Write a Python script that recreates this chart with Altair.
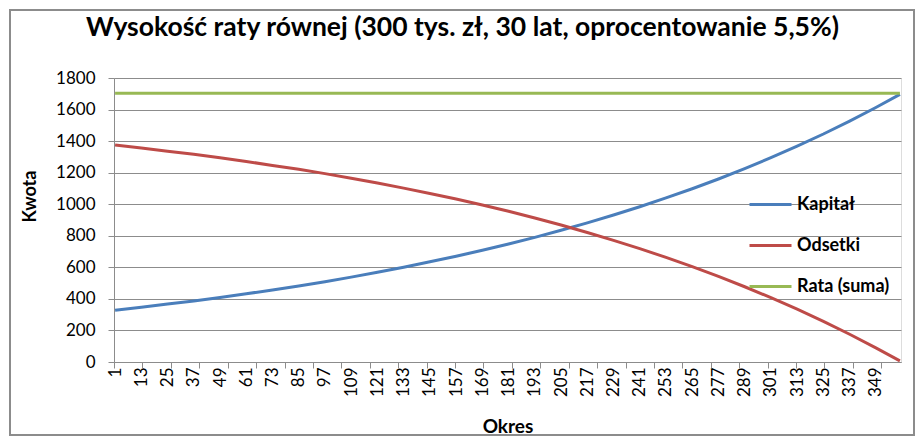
import altair as alt
import pandas as pd

# values at every 12th period (plus the last one)
okres = [1, 13, 25, 37, 49, 61, 73, 85, 97, 109, 121, 133, 145, 157, 169, 181,
         193, 205, 217, 229, 241, 253, 265, 277, 289, 301, 313, 325, 337, 349, 360]
kapital = [328, 347, 367, 387, 409, 432, 457, 482, 509, 538, 569, 601, 635, 670, 708, 748,
           790, 835, 882, 932, 984, 1040, 1098, 1160, 1226, 1295, 1368, 1445, 1527, 1613, 1696]
odsetki = [1375, 1356, 1336, 1316, 1294, 1271, 1246, 1221, 1194, 1165, 1134, 1102, 1068, 1033, 995, 955,
           913, 868, 821, 771, 719, 663, 605, 543, 477, 408, 335, 258, 176, 90, 7]
rata = [1703] * len(okres)

series = ["Kapitał", "Odsetki", "Rata (suma)"]
colors = ["#4A7EBB", "#BE4B48", "#98B954"]

label_values = list(range(1, 350, 12))
tick_values = [0.5 + 13 * k for k in range(28)]

df = pd.DataFrame({"Okres": okres, "Kapitał": kapital, "Odsetki": odsetki, "Rata (suma)": rata})
long = df.melt("Okres", var_name="Seria", value_name="Kwota")

FONT = "Lato"
GRID = "#8C8C8C"
x_scale = alt.Scale(domain=[0.5, 360.5], nice=False, zero=False)
y_scale = alt.Scale(domain=[0, 1800], nice=False)
y_axis = alt.Axis(values=list(range(0, 1801, 200)), title="Kwota", format="d",
                  labelFontSize=17, labelFont=FONT, labelColor="#000000",
                  labelPadding=13, tickSize=6, tickColor=GRID,
                  gridColor=GRID, domainColor=GRID,
                  titleFont=FONT, titleFontSize=18, titleFontWeight="bold",
                  titleX=-84, titleY=118, titleAngle=-90, titleAlign="center",
                  titleBaseline="middle")

lines = alt.Chart(long).mark_line(strokeWidth=3).encode(
    x=alt.X("Okres:Q", scale=x_scale,
            axis=alt.Axis(values=label_values, title="Okres", ticks=False, orient="bottom",
                          labelAngle=-90, labelAlign="right", labelBaseline="middle",
                          labelPadding=5, labelFontSize=17, labelFont=FONT,
                          labelColor="#000000", grid=False, domainColor=GRID,
                          titleFont=FONT, titleFontSize=19, titleFontWeight="bold",
                          titleY=64, titleBaseline="middle", labelOverlap=False)),
    y=alt.Y("Kwota:Q", scale=y_scale, axis=y_axis),
    color=alt.Color("Seria:N", scale=alt.Scale(domain=series, range=colors),
                    legend=alt.Legend(title=None, orient="none", legendX=634, legendY=104,
                                      symbolType="stroke", symbolSize=1764,
                                      symbolStrokeWidth=3, labelFont=FONT,
                                      labelFontSize=18, labelFontWeight="bold",
                                      labelColor="#000000", rowPadding=9,
                                      labelOffset=4)),
)

# tick marks of the category axis sit every 13 periods, unlike the labels
ticks = alt.Chart(long).mark_line(opacity=0).encode(
    x=alt.X("Okres:Q", scale=x_scale,
            axis=alt.Axis(values=tick_values, labels=False, title=None, domain=False,
                          orient="bottom", tickSize=6, tickColor=GRID, grid=False)),
    y=alt.Y("Kwota:Q", scale=y_scale, axis=y_axis),
)

frame = alt.Chart(pd.DataFrame({"a": [0]})).mark_rect(
    fill=None, stroke="#8C8C8C", strokeWidth=2
).encode(
    x=alt.value(-104), x2=alt.value(800), y=alt.value(-68), y2=alt.value(357)
)

chart = (
    alt.layer(lines, ticks, frame)
    .resolve_axis(x="independent")
    .properties(
        width=787,
        height=284,
        padding={"left": 106, "top": 70, "right": 15, "bottom": 75},
        autosize=alt.AutoSizeParams(type="none"),
        title=alt.TitleParams(
            "Wysokość raty równej (300 tys. zł, 30 lat, oprocentowanie 5,5%)",
            font=FONT, fontSize=26.5, fontWeight="bold", color="#000000",
            anchor="middle", dx=-45, offset=-32,
        ),
    )
    .configure_view(stroke=None)
    .configure(background="#FFFFFF")
)

chart.save("out.html", embed_options={"renderer": "svg", "actions": False})
